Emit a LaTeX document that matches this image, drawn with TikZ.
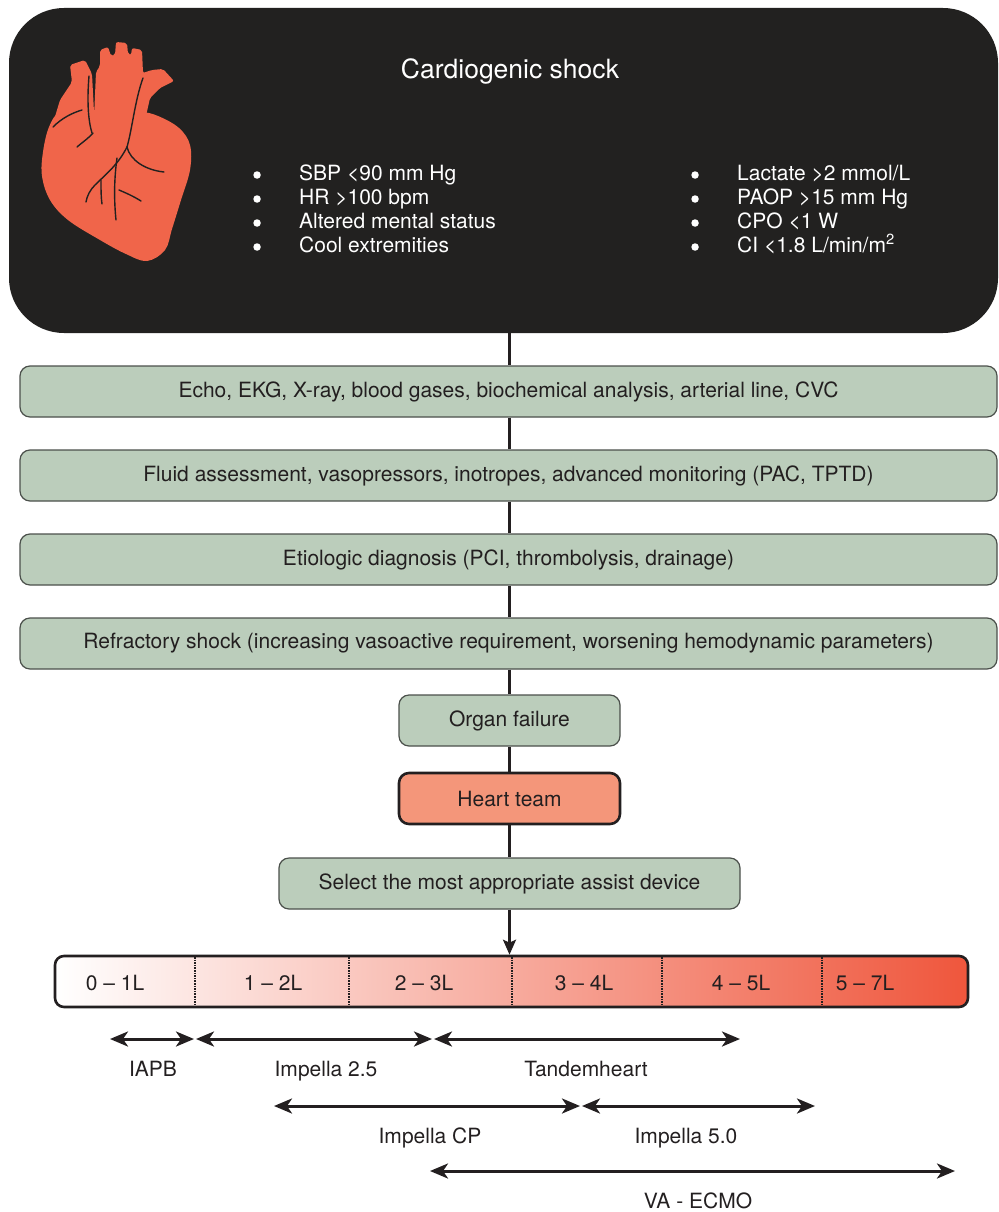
\documentclass[tikz,border=0pt]{standalone}
\usepackage{fontspec}
\setmainfont{TeX Gyre Heros}
\usetikzlibrary{arrows.meta,positioning,calc}
\definecolor{Ink}{RGB}{35,31,32}
\definecolor{ShockBlack}{RGB}{34,33,32}
\definecolor{HeartRed}{RGB}{240,101,74}
\definecolor{Sage}{RGB}{187,205,187}
\definecolor{SageEdge}{RGB}{75,80,75}
\definecolor{Salmon}{RGB}{244,150,122}
\definecolor{FlowMid}{RGB}{246,166,138}
\definecolor{FlowHigh}{RGB}{239,86,60}
\tikzset{
  basefont/.style={font=\fontsize{21}{25}\selectfont},
  shockbox/.style={fill=ShockBlack,rounded corners=55pt,minimum width=989pt,minimum height=325pt,inner sep=0pt},
  signtext/.style={text=white,basefont,anchor=west,inner sep=0pt,text height=15pt,text depth=4pt},
  signdot/.style={circle,fill=white,inner sep=0pt,minimum size=7.5pt,left=38pt of #1},
  stepbox/.style={draw=SageEdge,fill=Sage,line width=1.2pt,rounded corners=10pt,minimum height=51pt,text=Ink,basefont},
  teambox/.style={draw=Ink,fill=Salmon,line width=2.6pt,rounded corners=10pt,minimum height=51pt,text=Ink,basefont},
  flowline/.style={draw=Ink,line width=2.6pt},
  flowarrow/.style={flowline,-{Stealth[length=15pt,width=13pt,inset=3pt]}},
  flowbar/.style={draw=Ink,line width=2.6pt,rounded corners=9pt,left color=white,middle color=FlowMid,right color=FlowHigh,minimum width=913pt,minimum height=51pt},
  divider/.style={draw=Ink,line width=1.6pt,densely dotted},
  rangelabel/.style={text=Ink,basefont},
  span/.style={draw=Ink,line width=3pt,{Stealth[length=18pt,width=15pt,inset=5pt]}-{Stealth[length=18pt,width=15pt,inset=5pt]}},
  devicelabel/.style={text=Ink,basefont,below=17pt,inner sep=0pt},
  vein/.style={draw=ShockBlack,line width=1.4pt,line cap=round}
}

\begin{document}
\begin{tikzpicture}[x=1pt,y=-1pt]
\useasboundingbox (0,0) rectangle (998,1212);

% header panel
\node[shockbox] (shock) at (503.5,170.5) {};
\node[text=white,font=\fontsize{26.5}{30}\selectfont] (title) at (510,71) {Cardiogenic shock};

% clinical signs
\node[signtext] (sbp) at (299,175) {SBP \textless90 mm Hg};
\node[signtext] (hr) at (299,199) {HR \textgreater100 bpm};
\node[signtext] (mental) at (299,223) {Altered mental status};
\node[signtext] (cool) at (299,247) {Cool extremities};
\node[signdot=sbp] {};
\node[signdot=hr] {};
\node[signdot=mental] {};
\node[signdot=cool] {};

% hemodynamic criteria
\node[signtext] (lact) at (737,175) {Lactate \textgreater2 mmol/L};
\node[signtext] (paop) at (737,199) {PAOP \textgreater15 mm Hg};
\node[signtext] (cpo) at (737,223) {CPO \textless1 W};
\node[signtext] (ci) at (737,247) {CI \textless1.8 L/min/m\textsuperscript{2}};
\node[signdot=lact] {};
\node[signdot=paop] {};
\node[signdot=cpo] {};
\node[signdot=ci] {};

% heart
\fill[HeartRed] plot[smooth cycle,tension=0.6] coordinates {
  (147,261) (165,250) (172,229) (181,200) (190,170) (190,145) (179,128)
  (158,116) (140,112) (110,114) (85,108) (60,112) (49,127) (43,152)
  (42,176) (50,200) (68,220) (100,240) (126,254)};
\fill[HeartRed,rounded corners=2pt] (54,120) -- (60,100) -- (72,82) -- (70,65)
  -- (85,60) -- (92,74) -- (94,112) -- cycle;
\fill[HeartRed,rounded corners=2pt] (94,118) -- (96,72) -- (100,66) -- (100,50)
  -- (108,47) -- (111,56) -- (115,55) -- (116,42) -- (127,43) -- (128,54)
  -- (131,55) -- (132,48) -- (142,50) -- (143,73) -- (152,70) -- (163,69)
  -- (174,81) -- (160,88) -- (150,98) -- (146,116) -- cycle;
\draw[vein] (53,127) .. controls (62,118) and (72,113) .. (82,110);
\draw[vein] (89,76) .. controls (87,100) and (88,120) .. (92,133);
\draw[vein] (77,147) .. controls (84,141) and (90,137) .. (93,133);
\draw[vein] (143,78) .. controls (135,100) and (132,130) .. (127,147);
\draw[vein] (127,147) .. controls (118,165) and (105,175) .. (95,185)
  .. controls (90,190) and (87,196) .. (86,202);
\draw[vein] (127,147) .. controls (130,160) and (145,170) .. (164,172);
\draw[vein] (117,158) .. controls (114,180) and (114,200) .. (116,220);
\draw[vein] (119,190) .. controls (126,193) and (133,196) .. (141,201);
\draw[vein] (101,180) .. controls (101,190) and (101,197) .. (102,204);

% work-up steps
\node[stepbox,minimum width=977pt] (tests) at (508.5,391.5) {Echo, EKG, X-ray, blood gases, biochemical analysis, arterial line, CVC};
\node[stepbox,minimum width=977pt] (support) at (508.5,475.5) {Fluid assessment, vasopressors, inotropes, advanced monitoring (PAC, TPTD)};
\node[stepbox,minimum width=977pt] (cause) at (508.5,559.5) {Etiologic diagnosis (PCI, thrombolysis, drainage)};
\node[stepbox,minimum width=977pt] (refract) at (508.5,643.5) {Refractory shock (increasing vasoactive requirement, worsening hemodynamic parameters)};
\node[stepbox,minimum width=221pt] (organ) at (509.5,720.5) {Organ failure};
\node[teambox,minimum width=221pt] (team) at (509.5,798.5) {Heart team};
\node[stepbox,minimum width=461pt] (select) at (509.5,883.5) {Select the most appropriate assist device};

\draw[flowline] (shock.south -| organ) -- (tests.north -| organ);
\draw[flowline] (tests.south -| organ) -- (support.north -| organ);
\draw[flowline] (support.south -| organ) -- (cause.north -| organ);
\draw[flowline] (cause.south -| organ) -- (refract.north -| organ);
\draw[flowline] (refract.south -| organ) -- (organ.north);
\draw[flowline] (organ) -- (team);
\draw[flowline] (team) -- (select);

% flow scale
\node[flowbar] (bar) at (511.5,981.5) {};
\draw[flowarrow] (select.south) -- (bar.north -| select);
\draw[divider] (195,957) -- (195,1006);
\draw[divider] (349,957) -- (349,1006);
\draw[divider] (512,957) -- (512,1006);
\draw[divider] (662,957) -- (662,1006);
\draw[divider] (822,957) -- (822,1006);
\node[rangelabel] (r01) at (115,983) {0 -- 1L};
\node[rangelabel] (r12) at (273,983) {1 -- 2L};
\node[rangelabel] (r23) at (424,983) {2 -- 3L};
\node[rangelabel] (r34) at (584,983) {3 -- 4L};
\node[rangelabel] (r45) at (741,983) {4 -- 5L};
\node[rangelabel] (r57) at (865,983) {5 -- 7L};

% device ranges
\coordinate (iapbL) at (110,1039);
\coordinate (iapbR) at (194,1039);
\coordinate (imp25L) at (196,1039);
\coordinate (imp25R) at (432,1039);
\coordinate (tandL) at (434,1039);
\coordinate (tandR) at (740,1039);
\coordinate (impcpL) at (274,1106);
\coordinate (impcpR) at (580,1106);
\coordinate (imp50L) at (582,1106);
\coordinate (imp50R) at (815,1106);
\coordinate (ecmoL) at (430,1171);
\coordinate (ecmoR) at (955,1171);
\draw[span] (iapbL) -- (iapbR);
\draw[span] (imp25L) -- (imp25R);
\draw[span] (tandL) -- (tandR);
\draw[span] (impcpL) -- (impcpR);
\draw[span] (imp50L) -- (imp50R);
\draw[span] (ecmoL) -- (ecmoR);
\node[devicelabel] (iapb) at (153,1044) {IAPB};
\node[devicelabel] (imp25) at (326,1044) {Impella 2.5};
\node[devicelabel] (tand) at (586,1044) {Tandemheart};
\node[devicelabel] (impcp) at (430,1111) {Impella CP};
\node[devicelabel] (imp50) at (686,1111) {Impella 5.0};
\node[devicelabel] (ecmo) at (698,1176) {VA - ECMO};
\end{tikzpicture}
\end{document}
